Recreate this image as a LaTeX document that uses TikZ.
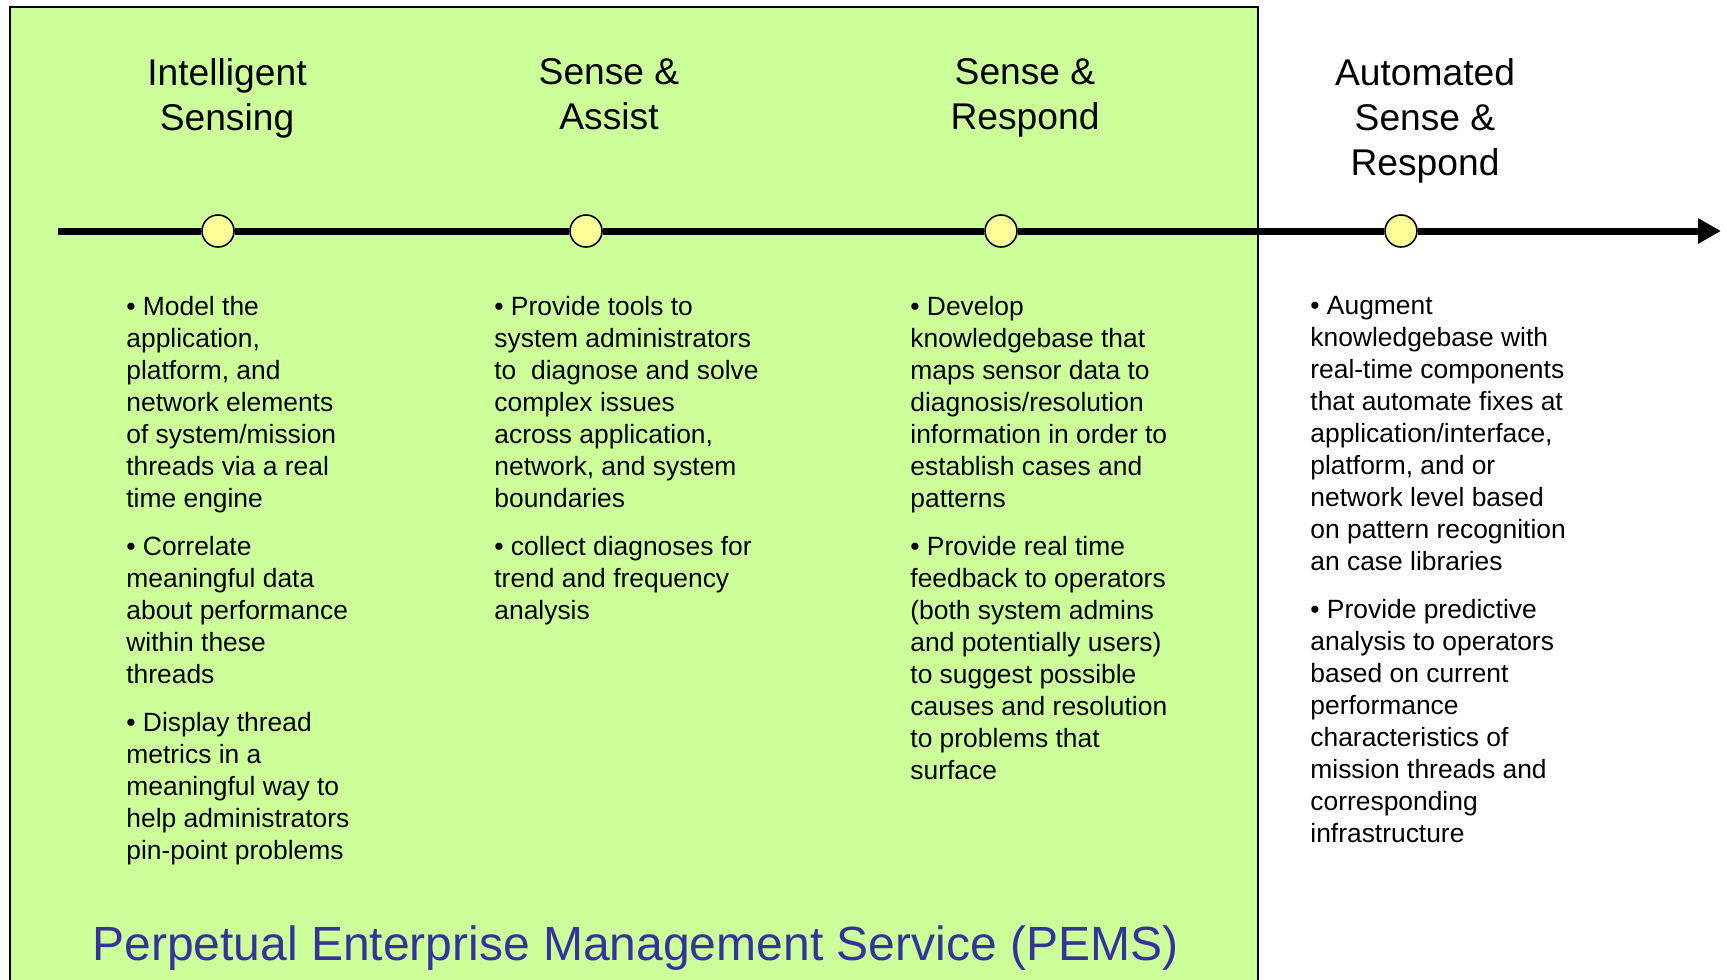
\documentclass[tikz,border=0pt]{standalone}
\usepackage{fontspec}
\setmainfont{Liberation Sans}
\usetikzlibrary{arrows.meta}

\definecolor{pemsgreen}{HTML}{CCFF99}
\definecolor{dotyellow}{HTML}{FFFF99}
\definecolor{pemsblue}{HTML}{333399}

\begin{document}
\begin{tikzpicture}[
    x=0.5pt, y=-0.5pt,
    phase/.style={align=center, inner sep=0pt, anchor=north, font=\fontsize{18.6}{22.5}\selectfont},
    notes/.style={align=left, inner sep=0pt, anchor=north west, font=\fontsize{13.2}{16}\selectfont},
    milestone/.style={circle, draw, fill=dotyellow, line width=0.8pt, minimum size=16pt, inner sep=0pt},
    timeline/.style={line width=3.5pt, -{Triangle[length=11.5pt, width=12pt]}}
]
\useasboundingbox (0,0) rectangle (1727,979);

% Panel
\draw[fill=pemsgreen, line width=1pt] (10,7) rectangle (1258,1000);

% Nodes
\node[milestone] (is) at (218,231) {};
\node[milestone] (sa) at (586,231) {};
\node[milestone] (sr) at (1001,231) {};
\node[milestone] (asr) at (1401,231) {};
\coordinate (start) at (58,231);
\coordinate (tip) at (1721,231);

\node[phase] (istitle) at (227,58) {Intelligent\\Sensing};
\node[phase] (satitle) at (609,58) {Sense \&\\Assist};
\node[phase] (srtitle) at (1025,58) {Sense \&\\Respond};
\node[phase] (asrtitle) at (1425,58) {Automated\\Sense \&\\Respond};

\node[notes] (isnotes) at (126,296) {%
• Model the\\application,\\platform, and\\network elements\\of system/mission\\threads via a real\\time engine\\[8pt]
• Correlate\\meaningful data\\about performance\\within these\\threads\\[8pt]
• Display thread\\metrics in a\\meaningful way to\\help administrators\\pin-point problems};
\node[notes] (sanotes) at (494,296) {%
• Provide tools to\\system administrators\\to~ diagnose and solve\\complex issues\\across application,\\network, and system\\boundaries\\[8pt]
• collect diagnoses for\\trend and frequency\\analysis};
\node[notes] (srnotes) at (910,296) {%
• Develop\\knowledgebase that\\maps sensor data to\\diagnosis/resolution\\information in order to\\establish cases and\\patterns\\[8pt]
• Provide real time\\feedback to operators\\(both system admins\\and potentially users)\\to suggest possible\\causes and resolution\\to problems that\\surface};
\node[notes] (asrnotes) at (1310,296) {%
• Augment\\knowledgebase with\\real-time components\\that automate fixes at\\application/interface,\\platform, and or\\network level based\\on pattern recognition\\an case libraries\\[8pt]
• Provide predictive\\analysis to operators\\based on current\\performance\\characteristics of\\mission threads and\\corresponding\\infrastructure};

\node[anchor=base west, inner sep=0pt, text=pemsblue, font=\fontsize{24}{28}\selectfont] (pems) at (92,960)
    {Perpetual Enterprise Management Service (PEMS)};

% Edges
\draw[timeline] (start) -- (is) -- (sa) -- (sr) -- (asr) -- (tip);

\end{tikzpicture}
\end{document}
